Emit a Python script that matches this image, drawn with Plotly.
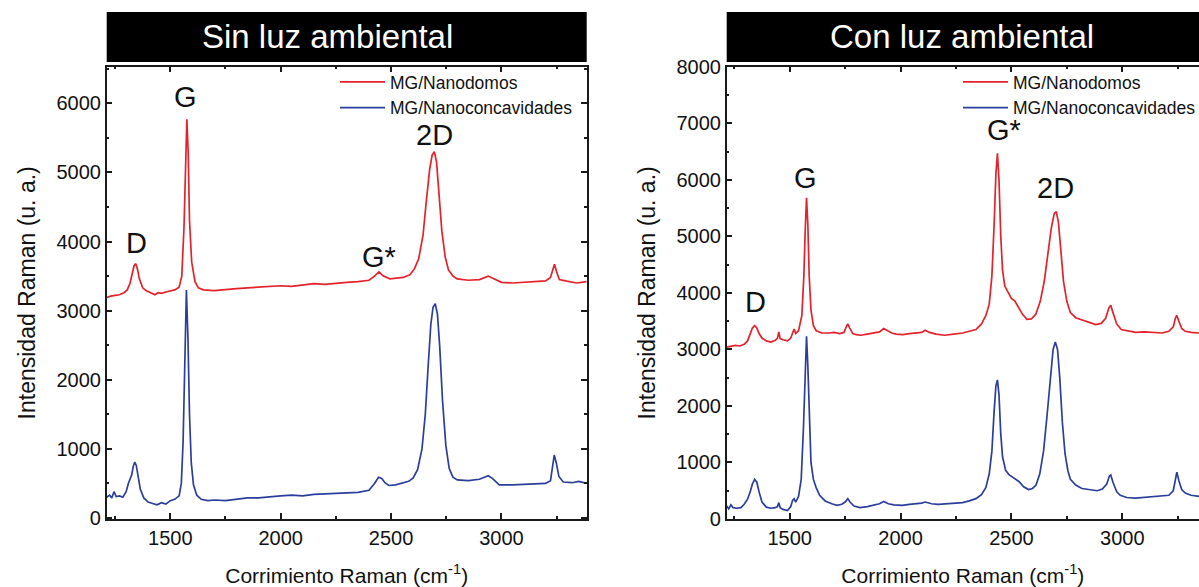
import plotly.graph_objects as go

W, H = 1199, 587

# ---- Spectra: Sin luz ambiental ----
sin_x_nanodomos = [1212, 1230, 1250, 1270, 1290, 1305, 1318, 1328, 1336, 1343, 1350, 1360, 1375, 1390, 1410, 1430, 1445, 1460, 1480, 1500, 1520, 1540, 1552, 1562, 1569, 1575, 1581, 1587, 1597, 1612, 1627, 1650, 1700, 1750, 1800, 1850, 1900, 1950, 2000, 2050, 2100, 2150, 2200, 2250, 2300, 2350, 2400, 2425, 2445, 2465, 2495, 2525, 2555, 2585, 2605, 2625, 2645, 2660, 2675, 2686, 2696, 2706, 2716, 2730, 2745, 2760, 2780, 2800, 2850, 2900, 2940, 2960, 3000, 3050, 3100, 3150, 3200, 3222, 3233, 3240, 3250, 3262, 3290, 3340, 3386]
sin_y_nanodomos = [3190, 3210, 3220, 3230, 3260, 3300, 3400, 3550, 3650, 3680, 3620, 3460, 3330, 3290, 3260, 3230, 3260, 3250, 3270, 3290, 3300, 3340, 3500, 4200, 5200, 5770, 5300, 4300, 3700, 3420, 3330, 3300, 3290, 3310, 3320, 3330, 3340, 3350, 3360, 3350, 3370, 3390, 3380, 3400, 3410, 3420, 3440, 3500, 3560, 3500, 3460, 3470, 3480, 3520, 3600, 3750, 4100, 4600, 5050, 5250, 5300, 5150, 4750, 4150, 3780, 3590, 3500, 3460, 3440, 3450, 3500, 3470, 3410, 3400, 3410, 3420, 3430, 3480, 3620, 3670, 3560, 3450, 3430, 3400, 3420]

sin_x_nanoconc = [1212, 1225, 1235, 1245, 1255, 1270, 1285, 1300, 1310, 1318, 1325, 1332, 1339, 1346, 1354, 1364, 1380, 1400, 1420, 1440, 1460, 1480, 1500, 1520, 1540, 1550, 1558, 1566, 1573, 1580, 1587, 1595, 1605, 1620, 1640, 1670, 1700, 1750, 1800, 1850, 1900, 1950, 2000, 2050, 2100, 2150, 2200, 2250, 2300, 2350, 2400, 2425, 2443, 2458, 2472, 2490, 2520, 2550, 2580, 2600, 2620, 2640, 2655, 2668, 2680, 2690, 2700, 2710, 2720, 2733, 2748, 2763, 2780, 2800, 2850, 2900, 2940, 2960, 2990, 3050, 3100, 3150, 3200, 3222, 3232, 3239, 3248, 3260, 3280, 3320, 3350, 3386]
sin_y_nanoconc = [300, 330, 290, 380, 310, 320, 300, 380, 500, 560, 620, 740, 810, 760, 600, 420, 290, 230, 210, 190, 220, 200, 250, 270, 320, 500, 1100, 2200, 3300, 2600, 1500, 800, 480, 330, 270, 250, 260, 250, 270, 290, 290, 310, 320, 330, 320, 340, 350, 360, 370, 370, 400, 500, 590, 570, 510, 470, 480, 500, 530, 580, 700, 1000, 1500, 2200, 2800, 3050, 3100, 2950, 2500, 1700, 1050, 720, 590, 550, 540, 560, 610, 570, 480, 480, 490, 490, 500, 540, 800, 910, 800, 600, 520, 510, 530, 500]

# ---- Spectra: Con luz ambiental ----
con_x_nanodomos = [1216, 1235, 1255, 1275, 1295, 1310, 1322, 1332, 1342, 1352, 1362, 1375, 1395, 1415, 1435, 1445, 1451, 1457, 1470, 1490, 1505, 1513, 1520, 1527, 1540, 1555, 1564, 1570, 1576, 1582, 1588, 1596, 1607, 1620, 1645, 1680, 1700, 1725, 1745, 1755, 1762, 1770, 1785, 1800, 1820, 1850, 1880, 1905, 1924, 1940, 1960, 1980, 2010, 2040, 2070, 2095, 2111, 2130, 2160, 2200, 2240, 2280, 2310, 2340, 2365, 2385, 2400, 2412, 2422, 2430, 2437, 2444, 2452, 2460, 2470, 2485, 2500, 2515, 2530, 2550, 2570, 2590, 2610, 2630, 2648, 2665, 2680, 2693, 2702, 2712, 2722, 2735, 2750, 2766, 2790, 2818, 2850, 2880, 2905, 2925, 2940, 2948, 2958, 2975, 2995, 3030, 3060, 3100, 3140, 3180, 3210, 3230, 3240, 3246, 3255, 3268, 3284, 3310, 3346]
con_y_nanodomos = [3040, 3060, 3070, 3060, 3090, 3150, 3260, 3380, 3420, 3380, 3280, 3200, 3150, 3130, 3160, 3200, 3310, 3190, 3170, 3150, 3200, 3300, 3360, 3280, 3330, 3600, 4300, 5100, 5680, 5200, 4300, 3700, 3420, 3330, 3290, 3290, 3300, 3280, 3300, 3400, 3450, 3380, 3280, 3260, 3250, 3270, 3290, 3310, 3370, 3330, 3290, 3270, 3260, 3280, 3290, 3300, 3340, 3300, 3270, 3250, 3270, 3290, 3320, 3350, 3450, 3600, 3800, 4300, 5200, 6100, 6470, 6000, 5000, 4400, 4120, 4000, 3900, 3860, 3750, 3620, 3530, 3540, 3620, 3850, 4200, 4700, 5150, 5400, 5440, 5250, 4800, 4200, 3850, 3650, 3560, 3520, 3470, 3440, 3460, 3550, 3740, 3780, 3650, 3450, 3350, 3320, 3300, 3310, 3300, 3290, 3320, 3400, 3560, 3600, 3500, 3370, 3320, 3300, 3290]

con_x_nanoconc = [1216, 1225, 1235, 1245, 1260, 1280, 1295, 1310, 1322, 1332, 1342, 1352, 1362, 1375, 1395, 1415, 1435, 1445, 1451, 1457, 1470, 1490, 1505, 1513, 1520, 1527, 1540, 1552, 1562, 1570, 1576, 1582, 1588, 1596, 1607, 1619, 1635, 1660, 1690, 1713, 1735, 1750, 1762, 1772, 1790, 1817, 1850, 1880, 1905, 1924, 1945, 1970, 2007, 2040, 2070, 2095, 2111, 2140, 2170, 2197, 2240, 2280, 2310, 2340, 2365, 2385, 2400, 2412, 2422, 2430, 2437, 2444, 2452, 2460, 2474, 2490, 2505, 2517, 2535, 2555, 2577, 2595, 2611, 2628, 2645, 2660, 2675, 2688, 2698, 2708, 2718, 2730, 2742, 2755, 2766, 2790, 2818, 2850, 2887, 2910, 2930, 2942, 2948, 2958, 2975, 2991, 3020, 3060, 3100, 3140, 3180, 3210, 3230, 3240, 3246, 3255, 3268, 3284, 3310, 3346]
con_y_nanoconc = [230, 180, 250, 200, 190, 200, 260, 350, 480, 620, 700, 650, 480, 300, 210, 190, 200, 220, 290, 200, 170, 150, 220, 330, 360, 300, 400, 700, 1600, 2700, 3230, 2700, 1800, 1000, 700, 560, 420, 320, 270, 240, 260, 300, 360, 300, 230, 200, 220, 250, 270, 310, 270, 250, 240, 260, 270, 280, 300, 270, 260, 270, 280, 290, 320, 360, 430, 560, 800, 1200, 1900, 2350, 2460, 2200, 1500, 1100, 860, 780, 740, 710, 660, 570, 520, 540, 600, 800, 1200, 1800, 2500, 3000, 3130, 3000, 2500, 1700, 1150, 850, 700, 600, 540, 520, 500, 530, 620, 760, 780, 650, 480, 420, 380, 370, 380, 390, 400, 420, 500, 760, 830, 680, 520, 460, 420, 400]

series_names = ["MG/Nanodomos", "MG/Nanoconcavidades"]
panel_titles = ["Sin luz ambiental", "Con luz ambiental"]

# peak labels: (text, x, y) in data units
sin_peaks = [("D", 1349, 3980), ("G", 1570, 6090), ("G*", 2447, 3770), ("2D", 2696, 5540)]
con_peaks = [("D", 1344, 3830), ("G", 1570, 6030), ("G*", 2465, 6880), ("2D", 2700, 5850)]

RED = "#e3222b"
BLUE = "#2c3e9c"
AX = "#1a1a1a"
FONT = "Liberation Sans, Arial, sans-serif"


def px(x):
    return x / W


def py(y):
    return 1 - y / H


fig = go.Figure()

fig.add_trace(go.Scatter(x=sin_x_nanodomos, y=sin_y_nanodomos, mode="lines", name=series_names[0],
                         line=dict(color=RED, width=1.7), xaxis="x", yaxis="y", legend="legend"))
fig.add_trace(go.Scatter(x=sin_x_nanoconc, y=sin_y_nanoconc, mode="lines", name=series_names[1],
                         line=dict(color=BLUE, width=1.7), xaxis="x", yaxis="y", legend="legend"))
fig.add_trace(go.Scatter(x=con_x_nanodomos, y=con_y_nanodomos, mode="lines", name=series_names[0],
                         line=dict(color=RED, width=1.7), xaxis="x2", yaxis="y2", legend="legend2"))
fig.add_trace(go.Scatter(x=con_x_nanoconc, y=con_y_nanoconc, mode="lines", name=series_names[1],
                         line=dict(color=BLUE, width=1.7), xaxis="x2", yaxis="y2", legend="legend2"))

ydom = [py(519), py(66.7)]


def xaxis_style(domain, rng, mirror):
    return dict(domain=domain, range=rng, showline=True, linecolor=AX, linewidth=1.5,
                mirror=mirror, ticks="inside", ticklen=6, tickwidth=1.5, tickcolor=AX,
                tickvals=[1500, 2000, 2500, 3000], showgrid=False, zeroline=False,
                minor=dict(tickvals=[1250, 1750, 2250, 2750, 3250], ticks="inside", ticklen=3,
                           tickwidth=1.5, tickcolor=AX),
                tickfont=dict(size=20, color="#111", family=FONT),
                title=dict(text="Corrimiento Raman (cm<sup>-1</sup>)",
                           font=dict(size=21, color="#111", family=FONT), standoff=25))


def yaxis_style(anchor, rng, mirror, dtick_vals, minor_vals):
    return dict(domain=ydom, anchor=anchor, range=rng, showline=True, linecolor=AX, linewidth=1.5,
                mirror=mirror, ticks="inside", ticklen=6, tickwidth=1.5, tickcolor=AX,
                tickvals=dtick_vals, showgrid=False, zeroline=False,
                minor=dict(tickvals=minor_vals, ticks="inside", ticklen=3, tickwidth=1.5, tickcolor=AX),
                tickfont=dict(size=20, color="#111", family=FONT),
                title=dict(text="Intensidad Raman (u. a.)",
                           font=dict(size=23, color="#111", family=FONT), standoff=14))


legend_common = dict(xanchor="left", yanchor="top", bgcolor="rgba(0,0,0,0)",
                     font=dict(size=17.5, color="#111", family=FONT), tracegroupgap=0, itemwidth=45)

fig.update_layout(
    width=W, height=H, margin=dict(l=0, r=0, t=0, b=0, autoexpand=False),
    paper_bgcolor="white", plot_bgcolor="white",
    xaxis=xaxis_style([px(106.7), px(586.7)], [1212, 3386], "allticks"),
    yaxis=yaxis_style("x", [-15, 6530], "allticks",
                      [0, 1000, 2000, 3000, 4000, 5000, 6000],
                      [500, 1500, 2500, 3500, 4500, 5500, 6500]),
    xaxis2=dict(xaxis_style([px(726.7), 1.0], [1216, 3346], "allticks"), anchor="y2"),
    yaxis2=yaxis_style("x2", [0, 8000], False,
                       [0, 1000, 2000, 3000, 4000, 5000, 6000, 7000, 8000],
                       [500, 1500, 2500, 3500, 4500, 5500, 6500, 7500]),
    legend=dict(legend_common, x=px(335), y=py(64)),
    legend2=dict(legend_common, x=px(958), y=py(64)),
    showlegend=True,
)

# title bars above each panel
shapes = [
    dict(type="rect", xref="paper", yref="paper", x0=px(106.7), x1=px(586.7), y0=py(62), y1=py(12),
         fillcolor="black", line=dict(width=0), layer="above"),
    dict(type="rect", xref="paper", yref="paper", x0=px(726.7), x1=px(1210), y0=py(62), y1=py(12),
         fillcolor="black", line=dict(width=0), layer="above"),
]
fig.update_layout(shapes=shapes)

annotations = [
    dict(text=panel_titles[0], x=px(327), y=py(37), xref="paper", yref="paper", showarrow=False,
         font=dict(size=33, color="white", family=FONT), xanchor="center", yanchor="middle"),
    dict(text=panel_titles[1], x=px(962), y=py(37), xref="paper", yref="paper", showarrow=False,
         font=dict(size=33, color="white", family=FONT), xanchor="center", yanchor="middle"),
]
for txt, x, y in sin_peaks:
    annotations.append(dict(text=txt, x=x, y=y, xref="x", yref="y", showarrow=False,
                            font=dict(size=29, color="#111", family=FONT)))
for txt, x, y in con_peaks:
    annotations.append(dict(text=txt, x=x, y=y, xref="x2", yref="y2", showarrow=False,
                            font=dict(size=29, color="#111", family=FONT)))
fig.update_layout(annotations=annotations)

fig.write_html("out.html")
